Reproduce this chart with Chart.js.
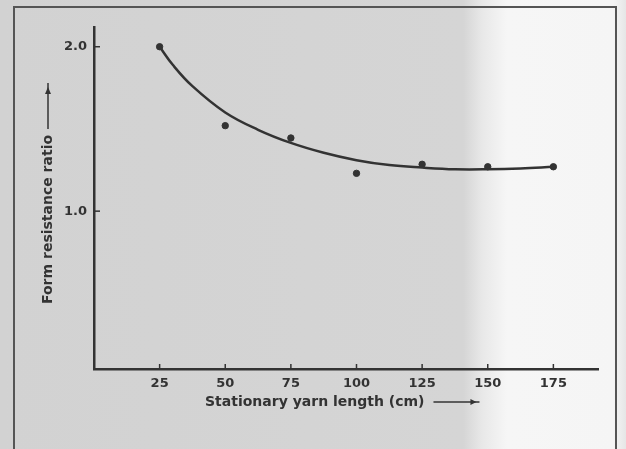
<!DOCTYPE html>
<html>
<head>
    <meta http-equiv="Content-Type" content="text/html; charset=UTF-8" />
    <script src="https://cdn.jsdelivr.net/npm/chart.js"></script>
    <title>Form resistance ratio</title>
<style>
    html, body { margin:0; padding:0; background:#d3d3d3; }
    canvas { display:block; }
</style>
</head>
<body>
<canvas id="myChart" width="626" height="449"></canvas>

<script>
    // measured points
    var lengths = [25, 50, 75, 100, 125, 150, 175]
    var ratios  = [2.00, 1.52, 1.445, 1.23, 1.285, 1.27, 1.27]

    // fitted curve
    var curveX = [25, 30, 37.5, 50, 62.5, 75, 87.5, 100, 112.5, 125, 137.5, 150, 162.5, 175]
    var curveY = [2.00, 1.89, 1.76, 1.60, 1.495, 1.415, 1.355, 1.31, 1.28, 1.265, 1.255, 1.255, 1.26, 1.27]

    var xTicks = [25, 50, 75, 100, 125, 150, 175]
    var yTicks = [1.0, 2.0]

    var xTitle = 'Stationary yarn length (cm)'
    var yTitle = 'Form resistance ratio'

    var ink = '#333333'
    var font = 'bold 14px "DejaVu Sans"'

    var toXY = function(xs, ys) {
        var out = []
        for (var i = 0; i < xs.length; i++) out.push({x: xs[i], y: ys[i]})
        return out
    }

    // scanned paper background + frame
    var paper = {
        id: 'paper',
        beforeDraw: function(chart) {
            var c = chart.ctx, w = chart.width, h = chart.height
            var g = c.createLinearGradient(0, 0, w, 0)
            g.addColorStop(0, '#d2d2d2')
            g.addColorStop(0.74, '#d5d5d5')
            g.addColorStop(0.77, '#e8e8e8')
            g.addColorStop(0.81, '#f6f6f6')
            g.addColorStop(0.98, '#f5f5f5')
            g.addColorStop(1, '#e6e6e6')
            c.save()
            c.fillStyle = g
            c.fillRect(0, 0, w, h)
            c.strokeStyle = '#555'
            c.lineWidth = 2
            c.strokeRect(14, 7, 602, h + 20)
            c.restore()
        }
    }

    // inward ticks and the axis titles with their arrows
    var decor = {
        id: 'decor',
        afterDraw: function(chart) {
            var c = chart.ctx
            var xs = chart.scales.x, ys = chart.scales.y
            var a = chart.chartArea
            c.save()
            c.strokeStyle = ink
            c.fillStyle = ink
            c.lineWidth = 1.5
            xTicks.forEach(function(v) {
                var px = xs.getPixelForValue(v)
                c.beginPath(); c.moveTo(px, a.bottom); c.lineTo(px, a.bottom - 5); c.stroke()
            })
            yTicks.forEach(function(v) {
                var py = ys.getPixelForValue(v)
                c.beginPath(); c.moveTo(a.left, py); c.lineTo(a.left + 6, py); c.stroke()
            })

            c.font = font
            c.textBaseline = 'middle'

            // x title
            var tw = c.measureText(xTitle).width
            var tx = 205, ty = 402
            c.textAlign = 'left'
            c.fillText(xTitle, tx, ty)
            var ax0 = tx + tw + 9, ax1 = ax0 + 46
            c.lineWidth = 1.5
            c.beginPath(); c.moveTo(ax0, ty); c.lineTo(ax1, ty); c.stroke()
            c.beginPath(); c.moveTo(ax1 - 3, ty); c.lineTo(ax1 - 9, ty - 3); c.lineTo(ax1 - 9, ty + 3); c.closePath(); c.fill()

            // y title (rotated)
            c.translate(48, 304)
            c.rotate(-Math.PI / 2)
            c.textAlign = 'left'
            c.fillText(yTitle, 0, 0)
            var yw = c.measureText(yTitle).width
            var b0 = yw + 6, b1 = 304 - 83
            c.beginPath(); c.moveTo(b0, 0); c.lineTo(b1, 0); c.stroke()
            c.beginPath(); c.moveTo(b1 - 4, 0); c.lineTo(b1 - 11, -3); c.lineTo(b1 - 11, 3); c.closePath(); c.fill()
            c.restore()
        }
    }

    var chart = new Chart(document.getElementById('myChart').getContext('2d'), {
        type: 'scatter',
        data: {
            datasets: [
                {
                    type: 'line',
                    label: 'curve',
                    data: toXY(curveX, curveY),
                    borderColor: ink,
                    borderWidth: 2.5,
                    pointRadius: 0,
                    fill: false,
                    tension: 0.4,
                },
                {
                    label: 'measured',
                    data: toXY(lengths, ratios),
                    backgroundColor: ink,
                    borderColor: ink,
                    pointRadius: 3.2,
                },
            ],
        },
        options: {
            responsive: false,
            animation: false,
            devicePixelRatio: 1,
            layout: { padding: { left: 0, right: 28, top: 27, bottom: 0 } },
            plugins: {
                legend: { display: false },
                tooltip: { enabled: false },
            },
            scales: {
                x: {
                    type: 'linear',
                    min: 0,
                    max: 192,
                    afterBuildTicks: function(s) { s.ticks = xTicks.map(function(v) { return {value: v} }) },
                    afterFit: function(s) { s.height = 80 },
                    grid: { display: true, drawOnChartArea: false, drawTicks: false },
                    border: { display: true, color: ink, width: 2.5 },
                    ticks: { color: ink, font: { family: 'DejaVu Sans', size: 13, weight: 'bold' }, padding: 7, maxRotation: 0 },
                },
                y: {
                    type: 'linear',
                    min: 0.04,
                    max: 2.12,
                    afterBuildTicks: function(s) { s.ticks = yTicks.map(function(v) { return {value: v} }) },
                    afterFit: function(s) { s.width = 94 },
                    grid: { display: true, drawOnChartArea: false, drawTicks: false },
                    border: { display: true, color: ink, width: 2.5 },
                    ticks: {
                        color: ink,
                        font: { family: 'DejaVu Sans', size: 13, weight: 'bold' },
                        padding: 7,
                        callback: function(v) { return v.toFixed(1) },
                    },
                },
            },
        },
        plugins: [paper, decor],
    });
</script>
</body>
</html>
